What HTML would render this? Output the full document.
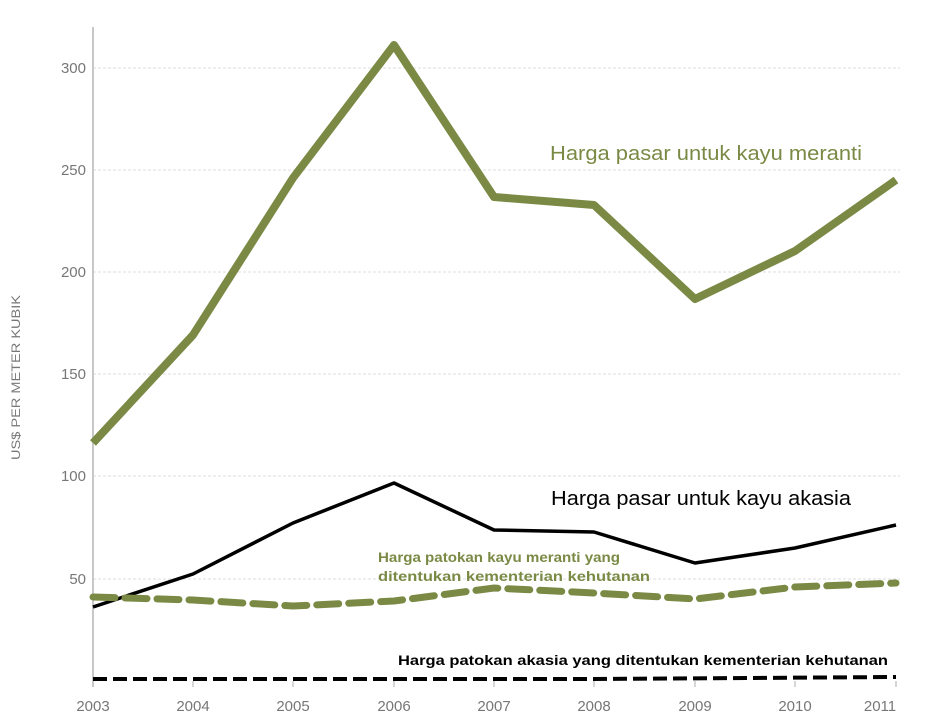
<!DOCTYPE html>
<html><head><meta charset="utf-8"><style>
html,body{margin:0;padding:0;background:#fff}
svg{display:block;font-family:"Liberation Sans","DejaVu Sans",sans-serif}
</style></head><body>
<svg width="946" height="727" viewBox="0 0 946 727">
<g stroke="#ddd" stroke-width="1" stroke-dasharray="3,2">
<line x1="93" y1="68" x2="900" y2="68"/>
<line x1="93" y1="170" x2="900" y2="170"/>
<line x1="93" y1="272" x2="900" y2="272"/>
<line x1="93" y1="374" x2="900" y2="374"/>
<line x1="93" y1="476" x2="900" y2="476"/>
<line x1="93" y1="579" x2="900" y2="579"/>
</g>
<line x1="93" y1="27" x2="93" y2="687" stroke="#c8c8c8" stroke-width="2"/>
<g stroke="#c8c8c8" stroke-width="1.5">
<line x1="193" y1="681" x2="193" y2="687"/><line x1="293" y1="681" x2="293" y2="687"/><line x1="394" y1="681" x2="394" y2="687"/><line x1="494" y1="681" x2="494" y2="687"/><line x1="594" y1="681" x2="594" y2="687"/><line x1="695" y1="681" x2="695" y2="687"/><line x1="795" y1="681" x2="795" y2="687"/><line x1="896" y1="681" x2="896" y2="687"/>
</g>
<g fill="#777" font-size="15" text-anchor="end">
<text x="86" y="73">300</text><text x="86" y="175">250</text><text x="86" y="277">200</text><text x="86" y="379">150</text><text x="86" y="481">100</text><text x="86" y="584">50</text>
</g>
<g fill="#777" font-size="15" text-anchor="middle">
<text x="93" y="711">2003</text><text x="193" y="711">2004</text><text x="293" y="711">2005</text><text x="394" y="711">2006</text><text x="494" y="711">2007</text><text x="594" y="711">2008</text><text x="695" y="711">2009</text><text x="795" y="711">2010</text><text x="880" y="711">2011</text>
</g>
<text transform="translate(20,460) rotate(-90)" fill="#777" font-size="12" textLength="165" lengthAdjust="spacingAndGlyphs">US$ PER METER KUBIK</text>
<polyline fill="none" stroke="#7a8a45" stroke-width="8" stroke-linejoin="round" points="93,443 193,335 293,178 394,45 494,197 594,205 695,299 795,251 896,180"/>
<polyline fill="none" stroke="#000" stroke-width="3.5" stroke-linejoin="round" points="93,607 193,574 293,523 394,483 494,530 594,532 695,563 795,548 896,525"/>
<polyline fill="none" stroke="#7a8a45" stroke-width="7" stroke-dasharray="22,10" stroke-linecap="round" points="93,597 193,600 293,606 394,601 494,588 594,593 695,599 795,587 896,583"/>
<polyline fill="none" stroke="#000" stroke-width="4" stroke-dasharray="14,6" points="93,679 594,679 896,677"/>
<text x="550" y="160" fill="#7a8a45" font-size="20" textLength="312" lengthAdjust="spacingAndGlyphs">Harga pasar untuk kayu meranti</text>
<text x="551" y="505" fill="#000" font-size="20" textLength="300" lengthAdjust="spacingAndGlyphs">Harga pasar untuk kayu akasia</text>
<text x="378" y="562" fill="#7a8a45" font-size="14" font-weight="bold" textLength="242" lengthAdjust="spacingAndGlyphs">Harga patokan kayu meranti yang</text>
<text x="378" y="581" fill="#7a8a45" font-size="14" font-weight="bold" textLength="272" lengthAdjust="spacingAndGlyphs">ditentukan kementerian kehutanan</text>
<text x="398" y="665" fill="#000" font-size="14" font-weight="bold" textLength="490" lengthAdjust="spacingAndGlyphs">Harga patokan akasia yang ditentukan kementerian kehutanan</text>
</svg>
</body></html>
